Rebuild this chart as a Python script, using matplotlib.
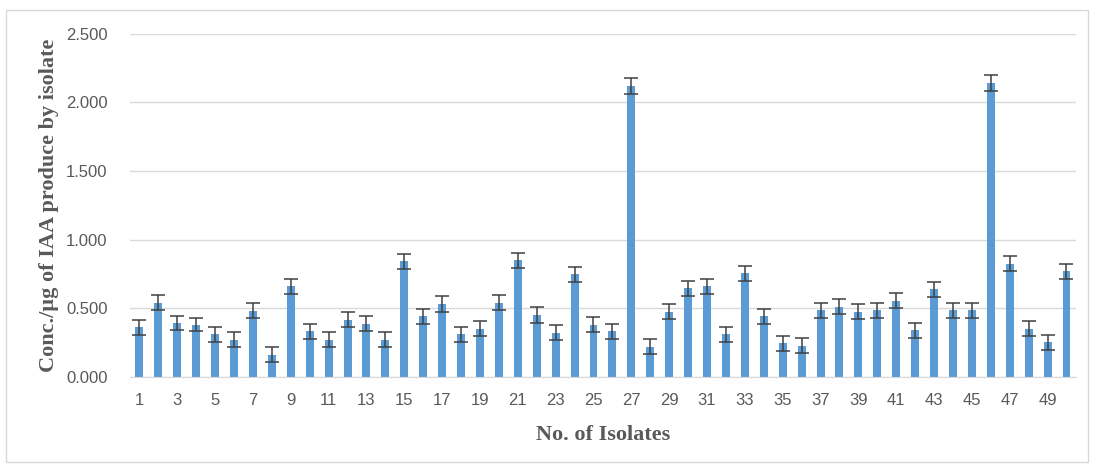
import numpy as np
import matplotlib
matplotlib.use("Agg")
import matplotlib.pyplot as plt
from matplotlib.patches import Rectangle

# isolate numbers and IAA concentration
isolates = list(range(1, 51))
conc = [0.36, 0.54, 0.39, 0.38, 0.31, 0.27, 0.48, 0.16, 0.66, 0.33,
        0.27, 0.415, 0.385, 0.27, 0.84, 0.44, 0.53, 0.31, 0.35, 0.54,
        0.85, 0.45, 0.32, 0.745, 0.38, 0.33, 2.12, 0.22, 0.475, 0.645,
        0.66, 0.31, 0.755, 0.44, 0.245, 0.225, 0.485, 0.51, 0.475, 0.485,
        0.553, 0.34, 0.637, 0.485, 0.485, 2.14, 0.824, 0.35, 0.25, 0.77]
err = [0.055, 0.055, 0.05, 0.05, 0.055, 0.055, 0.055, 0.055, 0.055, 0.055,
       0.055, 0.055, 0.055, 0.055, 0.055, 0.055, 0.055, 0.055, 0.055, 0.055,
       0.055, 0.055, 0.055, 0.055, 0.055, 0.055, 0.06, 0.055, 0.055, 0.055,
       0.055, 0.055, 0.055, 0.055, 0.055, 0.055, 0.055, 0.055, 0.055, 0.055,
       0.055, 0.055, 0.055, 0.055, 0.055, 0.06, 0.055, 0.055, 0.055, 0.055]
yticks = [0.0, 0.5, 1.0, 1.5, 2.0, 2.5]

fig = plt.figure(figsize=(10.94, 4.66), dpi=100)
ax = fig.add_axes([0.1188, 0.1916, 0.8647, 0.7361])

ax.bar(isolates, conc, width=0.42, color="#5B9BD5", zorder=2,
       yerr=err, error_kw=dict(ecolor="#404040", elinewidth=1.1, capsize=4.8, capthick=1.1))

ax.set_xlim(0.5, 50.5)
ax.set_ylim(0, 2.5)
ax.set_yticks(yticks)
ax.set_yticklabels([f"{v:.3f}" for v in yticks])
ax.set_xticks(isolates[::2])
ax.set_xticklabels([str(i) for i in isolates[::2]])

ax.grid(axis="y", color="#D9D9D9", linewidth=1, zorder=0)
for s in ["top", "right", "left"]:
    ax.spines[s].set_visible(False)
ax.spines["bottom"].set_color("#D9D9D9")
ax.tick_params(axis="both", length=0, labelsize=12, labelcolor="#595959")
ax.tick_params(axis="y", pad=16)
ax.tick_params(axis="x", pad=12)
for lab in ax.get_xticklabels() + ax.get_yticklabels():
    lab.set_fontfamily("Liberation Sans")

ax.set_xlabel("No. of Isolates", fontfamily="Liberation Serif", fontweight="bold",
              fontsize=16, color="#595959", labelpad=12)
ax.set_ylabel("Conc./µg of IAA produce by isolate", fontfamily="Liberation Serif",
              fontweight="bold", fontsize=16, color="#595959", labelpad=5)

# light frame round the whole chart
fig.patches.append(Rectangle((6 / 1094, 4 / 466), 1082 / 1094, 452 / 466, transform=fig.transFigure,
                             fill=False, edgecolor="#D9D9D9", linewidth=1))

fig.savefig("out.png", dpi=100)
